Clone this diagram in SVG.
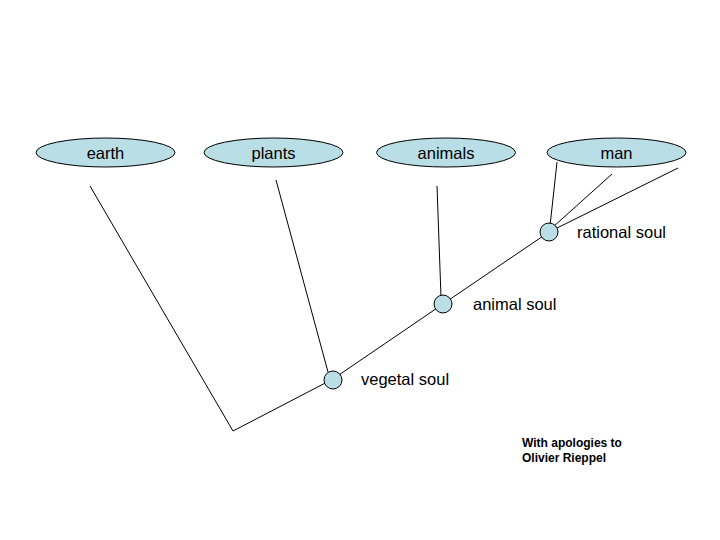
<svg xmlns="http://www.w3.org/2000/svg" width="720" height="540" viewBox="0 0 720 540">
<style>
.n{fill:#B9DEE6;stroke:#000;stroke-width:1}
.t{font-family:"Liberation Sans",Arial,sans-serif;font-size:16.5px;fill:#000}
.c{text-anchor:middle}
.f{font-family:"Liberation Sans",Arial,sans-serif;font-size:12px;font-weight:bold;fill:#000}
.l{stroke:#000;stroke-width:1;fill:none}
</style>
<rect width="720" height="540" fill="#fff"/>
<g id="connectors">
<line class="l" x1="90" y1="186" x2="233" y2="431"/>
<polyline class="l" points="233,431 333,379 443,304 549,232 678,168"/>
<line class="l" x1="276" y1="180" x2="328" y2="372"/>
<line class="l" x1="437" y1="186" x2="441" y2="297"/>
<line class="l" x1="557" y1="162" x2="550" y2="226"/>
<line class="l" x1="612" y1="174" x2="553" y2="227"/>
</g>
<g id="earth"><ellipse class="n" cx="105.5" cy="152.5" rx="69.5" ry="14.5"/><text class="t c" x="105.5" y="158.5">earth</text></g>
<g id="plants"><ellipse class="n" cx="273.5" cy="152.5" rx="69.5" ry="14.5"/><text class="t c" x="273.5" y="158.5">plants</text></g>
<g id="animals"><ellipse class="n" cx="446" cy="152.5" rx="69.5" ry="14.5"/><text class="t c" x="446" y="158.5">animals</text></g>
<g id="man"><ellipse class="n" cx="616.5" cy="152.5" rx="69.5" ry="14.5"/><text class="t c" x="616.5" y="158.5">man</text></g>
<g id="rational"><circle class="n" cx="549" cy="232" r="9"/><text class="t" x="577" y="237.5">rational soul</text></g>
<g id="animal"><circle class="n" cx="443" cy="304" r="9"/><text class="t" x="473" y="309.5">animal soul</text></g>
<g id="vegetal"><circle class="n" cx="333" cy="380" r="9"/><text class="t" x="361" y="384.5">vegetal soul</text></g>
<g id="note"><text class="f" x="522" y="447">With apologies to</text><text class="f" x="522" y="462">Olivier Rieppel</text></g>
</svg>
